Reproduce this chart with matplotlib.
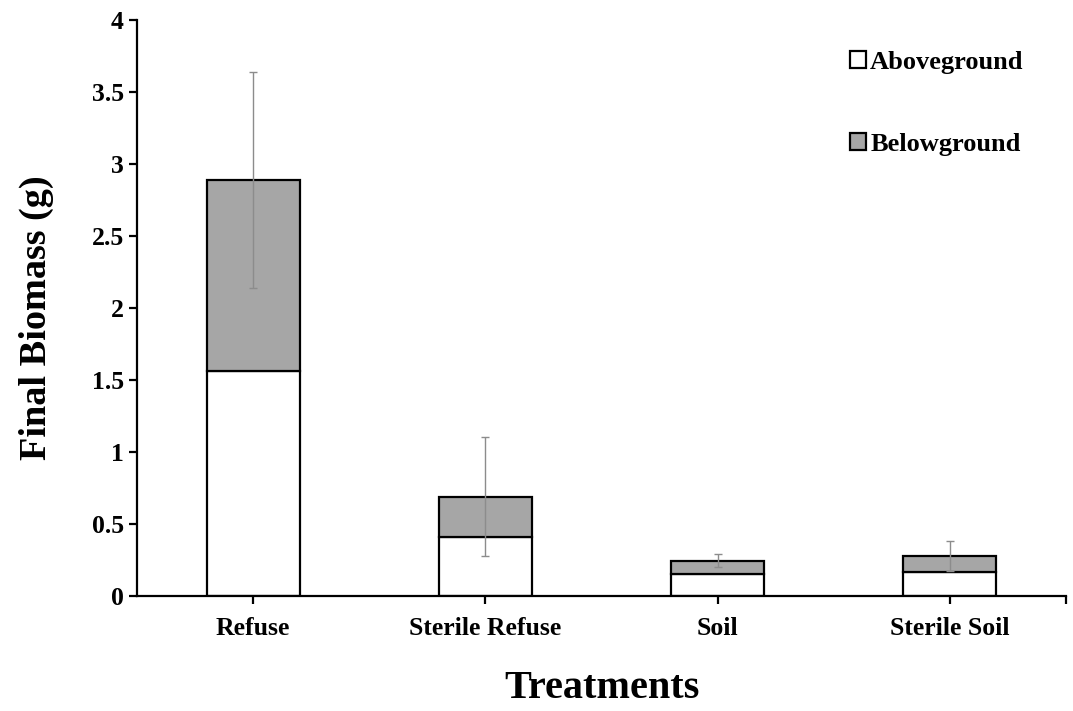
import matplotlib.pyplot as plt
import numpy as np

# values
treatments = ["Refuse", "Sterile Refuse", "Soil", "Sterile Soil"]
aboveground = [1.56, 0.41, 0.155, 0.17]
belowground = [1.33, 0.28, 0.09, 0.11]
total_err = [0.75, 0.415, 0.045, 0.104]

plt.rcParams['font.family'] = ['Liberation Serif', 'DejaVu Serif']
plt.rcParams['font.weight'] = 'bold'

fig = plt.figure(figsize=(10.73, 7.11), dpi=100)
ax = fig.add_axes([0.1277, 0.1617, 0.8658, 0.8102])

x = np.arange(len(treatments)) + 0.5
tops = np.array(aboveground) + np.array(belowground)

ax.bar(x, aboveground, width=0.4, color='white', edgecolor='black', linewidth=1.6, label='Aboveground')
ax.bar(x, belowground, width=0.4, bottom=aboveground, color='#a6a6a6', edgecolor='black',
       linewidth=1.6, label='Belowground')
ax.errorbar(x, tops, yerr=total_err, fmt='none', ecolor='#8c8c8c', elinewidth=1,
            capsize=3, capthick=1)

ax.set_xlim(0, 4)
ax.set_ylim(0, 4)
ax.set_xticks(x)
ax.set_xticklabels(treatments)
ax.set_xticks([4], minor=True)
ax.set_yticks(np.arange(0, 4.01, 0.5))
ax.set_yticklabels(["0", "0.5", "1", "1.5", "2", "2.5", "3", "3.5", "4"])
ax.tick_params(axis='both', which='both', labelsize=18.5, width=1.6, length=6, direction='out')
ax.tick_params(axis='x', pad=9)
for lbl in ax.get_xticklabels() + ax.get_yticklabels():
    lbl.set_fontweight('bold')

for s in ['top', 'right']:
    ax.spines[s].set_visible(False)
for s in ['left', 'bottom']:
    ax.spines[s].set_linewidth(1.6)

ax.set_ylabel("Final Biomass (g)", fontsize=27.5, fontweight='bold', labelpad=27, y=0.484)
ax.set_xlabel("Treatments", fontsize=29, fontweight='bold', labelpad=22)

ax.legend(loc='upper right', bbox_to_anchor=(0.98, 0.988), frameon=False,
          prop={'size': 19, 'weight': 'bold'}, handlelength=0.6, handleheight=0.6,
          handletextpad=0.15, labelspacing=2.25)

fig.savefig("out.png", dpi=100)
